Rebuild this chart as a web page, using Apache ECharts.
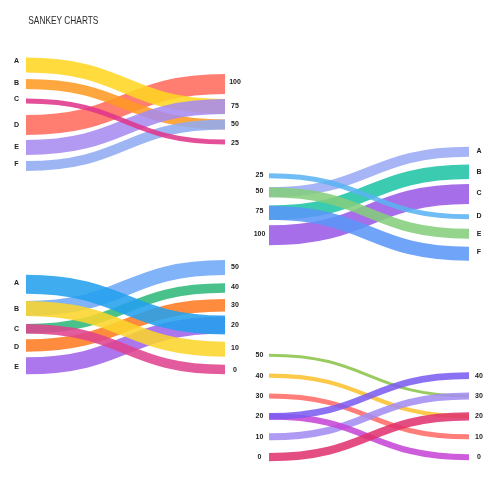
<!DOCTYPE html>
<html><head><meta charset="utf-8">
<script src="https://cdn.jsdelivr.net/npm/echarts@6/dist/echarts.min.js"></script>
<style>html,body{margin:0;padding:0;background:#fff}#c{width:500px;height:500px}</style>
</head><body><div id="c"></div>
<script>
// ---- Data (band positions in each panel's own vertical units) ----
const titleText = 'SANKEY CHARTS';
// Panel 1: left categories A-F, right values 100/75/50/25
const p1LeftLabels = ['A','B','C','D','E','F'];
const p1LeftLabelPos = [11, 33, 49, 75, 96.7, 114.3];
const p1RightLabels = ['100','75','50','25'];
const p1RightLabelPos = [32, 56, 74, 93];
const p1Left  = [75, 15, 34, 97.5, 116, 51];
const p1Right = [34, 56.5, 74.5, 56.5, 74.5, 92];
const p1Width = [20, 15, 10, 15, 10, 5];
const p1Colors = ['#ff6a5c','#ffd620','#ff9a22','#a78af0','#90aaf2','#e0358b'];

// Panel 2: left values 25..100, right categories A-F
const p2LeftLabels = ['25','50','75','100'];
const p2LeftLabelPos = [35, 50.7, 71, 94.3];
const p2RightLabels = ['A','B','C','D','E','F'];
const p2RightLabelPos = [10.7, 32.3, 53.3, 76, 93.7, 111.7];
const p2Left  = [52.3, 72.8, 95.3, 52.3, 72.8, 35.8];
const p2Right = [11.7, 31.8, 54, 93.7, 113.7, 76.8];
const p2Width = [10, 14.5, 20, 10, 14, 5];
const p2Colors = ['#9aaaf5','#1ec3a4','#9a58e6','#84ce7c','#5a96f7','#5ab3f2'];

// Panel 3: left categories A-E, right values 50..0
const p3LeftLabels = ['A','B','C','D','E'];
const p3LeftLabelPos = [33.3, 58.7, 79.3, 96.7, 117.3];
const p3RightLabels = ['50','40','30','20','10','0'];
const p3RightLabelPos = [17.3, 37.3, 55, 75, 98.3, 120];
const p3Left  = [115.8, 58.5, 78.7, 95.5, 34.3, 58.5, 78.7];
const p3Right = [75, 17.5, 38, 55.3, 75, 99.2, 119.5];
const p3Width = [17, 15, 9.5, 12.5, 19, 15, 9.5];
const p3Colors = ['#a063ea','#6ea8f8','#2db87a','#ff7a22','#22a0ee','#fcd42a','#e0438e'];

// Panel 4: both sides values 0..50
const p4LeftLabels = ['50','40','30','20','10','0'];
const p4LeftLabelPos = [50, 40, 30, 20, 10, 0];
const p4RightLabels = ['40','30','20','10','0'];
const p4RightLabelPos = [40, 30, 20, 10, 0];
const p4Left  = [50, 40, 30, 10, 20, 20, 0];
const p4Right = [30, 20, 10, 30, 0, 40, 20];
const p4Width = [1.5, 2, 2.5, 3.5, 3, 3.3, 4];
const p4Colors = ['#8bc34a','#fcc12d','#ff6b66','#a38cf2','#c545d6','#7b5cf0','#e0336e'];

const chart = echarts.init(document.getElementById('c'), null, {renderer:'canvas'});

function bandRender(params, api, colors) {
  const yl = api.value(0), yr = api.value(1), w = api.value(2);
  const col = colors[api.value(3)];
  const p0 = api.coord([0, yl]), p1 = api.coord([1, yr]);
  const lw = Math.abs(api.size([0, w])[1]);
  const xm = (p0[0] + p1[0]) / 2;
  return {type:'bezierCurve',
    shape:{x1:p0[0], y1:p0[1], x2:p1[0], y2:p1[1], cpx1:xm, cpy1:p0[1], cpx2:xm, cpy2:p1[1]},
    style:{fill:null, stroke:col, lineWidth:lw, lineCap:'butt', opacity:0.87}};
}

function labelRender(params, api, texts) {
  const side = api.value(0), y = api.value(1);
  const p = api.coord([side, y]);
  const dx = side === 0 ? -9.5 : 10;
  return {type:'text', x: p[0] + dx, y: p[1],
    style:{text: texts[params.dataIndex], textAlign:'center', textVerticalAlign:'middle',
      fontSize:7, fontWeight:'bold', fontFamily:'Liberation Sans, Arial, sans-serif', fill:'#222'}};
}

const grids = [
  {left:26, top:50, width:199, height:130},
  {left:269, top:140, width:200, height:130},
  {left:26, top:250, width:199, height:130},
  {left:269, top:345, width:200, height:122.4}
];
const yRanges = [
  {min:0, max:130, inverse:true},
  {min:0, max:130, inverse:true},
  {min:0, max:130, inverse:true},
  {min:-5, max:55, inverse:false}
];
const panels = [
  [p1Left,p1Right,p1Width,p1Colors,p1LeftLabels,p1LeftLabelPos,p1RightLabels,p1RightLabelPos],
  [p2Left,p2Right,p2Width,p2Colors,p2LeftLabels,p2LeftLabelPos,p2RightLabels,p2RightLabelPos],
  [p3Left,p3Right,p3Width,p3Colors,p3LeftLabels,p3LeftLabelPos,p3RightLabels,p3RightLabelPos],
  [p4Left,p4Right,p4Width,p4Colors,p4LeftLabels,p4LeftLabelPos,p4RightLabels,p4RightLabelPos]
];

const series = [];
panels.forEach((p, i) => {
  const [L, R, W, C, LL, LP, RL, RP] = p;
  series.push({
    type:'custom', xAxisIndex:i, yAxisIndex:i, silent:true, animation:false, clip:false,
    renderItem: (params, api) => bandRender(params, api, C),
    data: L.map((v, k) => [v, R[k], W[k], k])
  });
  const texts = LL.concat(RL);
  series.push({
    type:'custom', xAxisIndex:i, yAxisIndex:i, silent:true, animation:false, clip:false,
    renderItem: (params, api) => labelRender(params, api, texts),
    data: LP.map(v => [0, v]).concat(RP.map(v => [1, v]))
  });
});

chart.setOption({
  backgroundColor:'#fff',
  animation:false,
  graphic:[{type:'text', x:28.3, y:21.2, scaleX:0.8, silent:true,
    style:{text:titleText, fontSize:10.4, fontWeight:'normal', fill:'#2a2a2a',
      textAlign:'left', textVerticalAlign:'middle', fontFamily:'Liberation Sans, Arial, sans-serif'}}],
  grid: grids,
  xAxis: grids.map((g, i) => ({type:'value', gridIndex:i, min:0, max:1, show:false})),
  yAxis: yRanges.map((r, i) => ({type:'value', gridIndex:i, min:r.min, max:r.max, inverse:r.inverse, show:false})),
  series: series
});
</script></body></html>
